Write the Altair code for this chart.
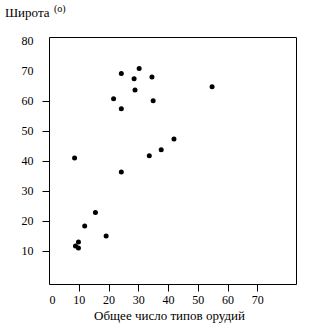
import altair as alt
import pandas as pd

# Data
tools = [24.3, 30.3, 28.6, 34.6, 28.9, 54.8, 21.7, 35.0, 24.3, 42.0,
         37.7, 33.7, 8.6, 24.3, 15.6, 12.0, 19.2, 9.9, 8.9, 9.9]
latitude = [69.1, 70.8, 67.4, 68.0, 63.6, 64.7, 60.7, 60.1, 57.4, 47.3,
            43.7, 41.7, 41.0, 36.3, 22.8, 18.3, 15.0, 13.0, 11.7, 11.0]
x_ticks = [0, 10, 20, 30, 40, 50, 60, 70]
y_ticks = [10, 20, 30, 40, 50, 60, 70, 80]
x_title = "Общее число типов орудий"
y_title = "Широта"
y_unit = "(o)"

FONT = "'Liberation Serif', 'Times New Roman', 'DejaVu Serif', serif"

df = pd.DataFrame({"tools": tools, "lat": latitude})

points = alt.Chart(df).mark_circle(size=25, color="black", opacity=1).encode(
    x=alt.X(
        "tools:Q",
        scale=alt.Scale(domain=[0, 83], nice=False, zero=False),
        axis=alt.Axis(
            values=x_ticks, title=x_title, grid=False, domain=False,
            tickSize=7,
            tickColor={"condition": {"test": "datum.value == 0", "value": "transparent"}, "value": "black"},
            labelFont=FONT, labelFontSize=12, labelColor="black", labelPadding=3,
            titleFont=FONT, titleFontSize=13, titleFontWeight="normal", titleColor="black",
            titlePadding=4, titleX=120,
        ),
    ),
    y=alt.Y(
        "lat:Q",
        scale=alt.Scale(domain=[-1, 81.3], nice=False, zero=False),
        axis=alt.Axis(
            values=y_ticks, title=None, grid=False, domain=False,
            tickSize=7,
            tickColor={"condition": {"test": "datum.value >= 70", "value": "transparent"}, "value": "black"},
            labelFont=FONT, labelFontSize=12, labelColor="black", labelPadding=9,
        ),
    ),
)

title_df = pd.DataFrame({"t": [y_title]})
unit_df = pd.DataFrame({"t": [y_unit]})

title_text = alt.Chart(title_df).mark_text(
    font=FONT, fontSize=13, color="black", align="left", baseline="alphabetic"
).encode(text="t:N", x=alt.value(-44), y=alt.value(-20))

unit_text = alt.Chart(unit_df).mark_text(
    font=FONT, fontSize=10, color="black", align="left", baseline="alphabetic"
).encode(text="t:N", x=alt.value(5), y=alt.value(-25))

chart = alt.layer(points, title_text, unit_text).properties(
    width=247, height=247,
    autosize=alt.AutoSizeParams(type="none"),
    padding={"left": 49, "top": 37, "right": 25, "bottom": 45},
    background="white",
).configure_view(stroke="black", strokeWidth=1)

chart.save("out.html", embed_options={"renderer": "svg", "actions": False})
